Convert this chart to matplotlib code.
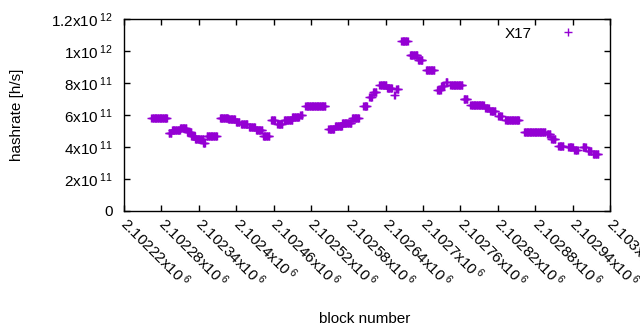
import numpy as np
import matplotlib
matplotlib.use("Agg")
import matplotlib.pyplot as plt
from matplotlib.ticker import FixedLocator, FixedFormatter

plt.rcParams['font.family'] = ['Liberation Sans', 'DejaVu Sans']
plt.rcParams['mathtext.fontset'] = 'custom'
plt.rcParams['mathtext.rm'] = 'Liberation Sans'
plt.rcParams['mathtext.it'] = 'Liberation Sans'

# step segments of the hashrate series: first block, last block, hashrate (x1e11 h/s)
seg_start = [2102264, 2102292, 2102297, 2102310, 2102321, 2102328, 2102334, 2102347,
             2102353, 2102374, 2102387, 2102400, 2102408, 2102421, 2102432, 2102443,
             2102456, 2102466, 2102477, 2102490, 2102503, 2102511, 2102548, 2102559,
             2102570, 2102586, 2102604, 2102614, 2102620, 2102630, 2102642, 2102654,
             2102657, 2102665, 2102679, 2102692, 2102705, 2102723, 2102729, 2102736,
             2102744, 2102765, 2102776, 2102800, 2102808, 2102821, 2102832, 2102862,
             2102899, 2102906, 2102917, 2102933, 2102943, 2102956, 2102965, 2102973]
seg_end = [2102289, 2102296, 2102310, 2102320, 2102328, 2102334, 2102347, 2102350,
           2102369, 2102387, 2102398, 2102405, 2102418, 2102430, 2102442, 2102453,
           2102462, 2102474, 2102490, 2102501, 2102506, 2102543, 2102557, 2102570,
           2102585, 2102597, 2102610, 2102618, 2102625, 2102641, 2102650, 2102655,
           2102660, 2102675, 2102691, 2102699, 2102718, 2102728, 2102734, 2102739,
           2102763, 2102771, 2102797, 2102805, 2102816, 2102826, 2102854, 2102896,
           2102904, 2102912, 2102925, 2102940, 2102948, 2102961, 2102970, 2102981]
seg_value = [5.79, 4.87, 5.06, 5.17, 4.94, 4.69, 4.47, 4.25,
             4.69, 5.81, 5.75, 5.56, 5.44, 5.25, 5.06, 4.69,
             5.69, 5.44, 5.69, 5.87, 6.03, 6.56, 5.12, 5.34,
             5.53, 5.81, 6.56, 7.12, 7.44, 7.86, 7.71, 7.25,
             7.60, 10.6, 9.73, 9.42, 8.79, 7.59, 7.79, 8.06,
             7.86, 7.02, 6.60, 6.44, 6.23, 5.92, 5.67, 4.96,
             4.81, 4.50, 4.08, 4.00, 3.83, 3.98, 3.77, 3.56]

x_ticks = [2102220, 2102280, 2102340, 2102400, 2102460, 2102520, 2102580,
           2102640, 2102700, 2102760, 2102820, 2102880, 2102940, 2103000]
x_tick_labels = ['2.10222', '2.10228', '2.10234', '2.1024', '2.10246', '2.10252', '2.10258',
                 '2.10264', '2.1027', '2.10276', '2.10282', '2.10288', '2.10294', '2.103']
y_ticks = [0, 2e11, 4e11, 6e11, 8e11, 1e12, 1.2e12]
y_tick_labels = ['0', '2x10$^{\\;11}$', '4x10$^{\\;11}$', '6x10$^{\\;11}$', '8x10$^{\\;11}$',
                 '1x10$^{\\;12}$', '1.2x10$^{\\;12}$']

xs, ys = [], []
for s, e, v in zip(seg_start, seg_end, seg_value):
    blocks = np.arange(s, e + 1)
    xs.append(blocks)
    ys.append(np.full(len(blocks), v * 1e11))
xs = np.concatenate(xs)
ys = np.concatenate(ys)

fig = plt.figure(figsize=(6.4, 3.3), dpi=100)
ax = fig.add_axes([124/640, 1-211/330, (610-124)/640, (211-19)/330])
color = '#9400D3'
ax.plot(xs, ys, linestyle='none', marker='+', markersize=5.3, markeredgewidth=1.0,
        color=color, label='X17')

ax.set_xlim(2102220, 2103000)
ax.set_ylim(0, 1.2e12)
ax.xaxis.set_major_locator(FixedLocator(x_ticks))
ax.xaxis.set_major_formatter(FixedFormatter([l + 'x10$^{\\;6}$' for l in x_tick_labels]))
ax.yaxis.set_major_locator(FixedLocator(y_ticks))
ax.yaxis.set_major_formatter(FixedFormatter(y_tick_labels))

ax.tick_params(direction='in', length=4, width=1, top=True, right=True,
               labelsize=11, colors='black')
ax.tick_params(axis='y', pad=8)
ax.tick_params(axis='x', pad=7)
for lab in ax.get_xticklabels():
    lab.set_rotation(-45)
    lab.set_ha('left')
    lab.set_va('center')
    lab.set_rotation_mode('anchor')
for sp in ax.spines.values():
    sp.set_linewidth(1)

ax.set_ylabel('hashrate [h/s]', fontsize=11)
ax.yaxis.set_label_coords(-0.205, 0.5)
fig.text(365/640, 1-319/330, 'block number', fontsize=11, ha='center', va='center')

leg = ax.legend(loc='upper right', frameon=False, markerfirst=False, fontsize=11,
                handlelength=2.2, handletextpad=1.3, borderaxespad=0.3,
                bbox_to_anchor=(0.97, 1.016))

fig.savefig('out.png', dpi=100)
